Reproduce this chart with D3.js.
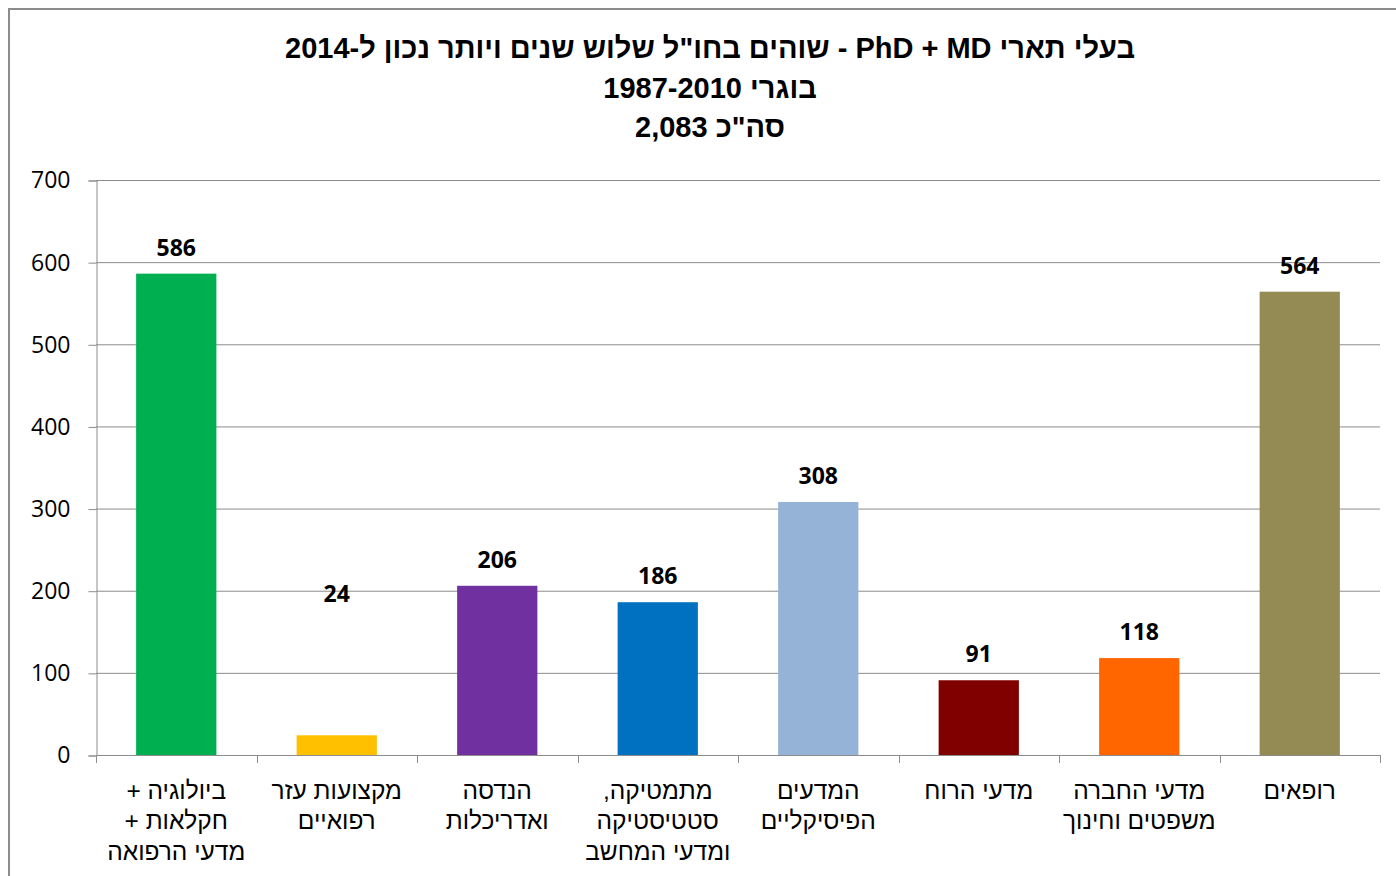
<!DOCTYPE html>
<html><head><meta charset="utf-8">
<script src="https://cdn.jsdelivr.net/npm/d3@7/dist/d3.min.js"></script>
<style>html,body{margin:0;padding:0;background:#fff;}svg{display:block;}</style>
</head><body>
<script>
const titleLines = ["בעלי תארי PhD + MD - שוהים בחו\"ל שלוש שנים ויותר נכון ל-2014", "בוגרי 1987-2010", "סה\"כ 2,083"];
const categories = [
  ["ביולוגיה +", "חקלאות +", "מדעי הרפואה"],
  ["מקצועות עזר", "רפואיים"],
  ["הנדסה", "ואדריכלות"],
  ["מתמטיקה,", "סטטיסטיקה", "ומדעי המחשב"],
  ["המדעים", "הפיסיקליים"],
  ["מדעי הרוח"],
  ["מדעי החברה", "משפטים וחינוך"],
  ["רופאים"]
];
const values = [586, 24, 206, 186, 308, 91, 118, 564];
const labelAt = [586, 164, 206, 186, 308, 91, 118, 564];
const colors = ["#00B050", "#FFC000", "#7030A0", "#0070C0", "#95B3D7", "#800000", "#FF6600", "#948A54"];
const yTicks = [0, 100, 200, 300, 400, 500, 600, 700];

(function(){
const W = 1396, H = 876;
const svg = d3.select("body").append("svg").attr("width", W).attr("height", H);
svg.append("rect").attr("x", 9).attr("y", 9).attr("width", 1420).attr("height", 900)
  .attr("fill", "#fff").attr("stroke", "#8c8c8c").attr("stroke-width", 2);

const pl = 96, pr = 1380, pt = 180, pb = 755;
const idx = d3.range(values.length);
const x = d3.scaleBand().domain(idx).range([pl, pr]).paddingInner(0.5).paddingOuter(0.25);
const y = d3.scaleLinear().domain([0, 700]).range([pb, pt]);

svg.append("g").selectAll("line").data(yTicks.filter(d => d > 0)).join("line")
  .attr("x1", pl).attr("x2", pr).attr("y1", d => y(d) + 0.5).attr("y2", d => y(d) + 0.5)
  .attr("stroke", "#8c8c8c").attr("stroke-width", 1);

const yAxis = svg.append("g").attr("transform", `translate(${pl + 0.5},0.5)`)
  .call(d3.axisLeft(y).tickValues(yTicks).tickSize(8).tickPadding(18).tickFormat(d3.format("d")));
yAxis.select(".domain").attr("stroke", "#8c8c8c");
yAxis.selectAll(".tick line").attr("stroke", "#8c8c8c");
yAxis.selectAll(".tick text").attr("font-family", "'Open Sans', 'Noto Sans', sans-serif")
  .attr("font-size", 23).attr("fill", "#000");

svg.append("g").selectAll("rect").data(idx).join("rect")
  .attr("x", i => x(i)).attr("width", x.bandwidth())
  .attr("y", i => y(values[i])).attr("height", i => y(0) - y(values[i]))
  .attr("fill", i => colors[i]);

const step = x.step();
const edges = d3.range(values.length + 1).map(i => pl + i * step);
svg.append("line").attr("x1", pl).attr("x2", pr).attr("y1", pb + 0.5).attr("y2", pb + 0.5)
  .attr("stroke", "#8c8c8c").attr("stroke-width", 1);
svg.append("g").selectAll("line").data(edges).join("line")
  .attr("x1", d => Math.round(d) + 0.5).attr("x2", d => Math.round(d) + 0.5)
  .attr("y1", pb).attr("y2", pb + 8).attr("stroke", "#8c8c8c");

const catG = svg.append("g").selectAll("text").data(idx).join("text")
  .attr("text-anchor", "middle").attr("direction", "rtl")
  .attr("font-family", "'Liberation Sans', Arial, sans-serif").attr("font-size", 24.5).attr("fill", "#000");
catG.each(function(i) {
  const t = d3.select(this);
  categories[i].forEach((line, k) => {
    t.append("tspan").attr("x", x(i) + x.bandwidth() / 2).attr("y", 790 + k * 30.5)
      .attr("dominant-baseline", "central").text(line);
  });
});

svg.append("g").selectAll("text").data(idx).join("text")
  .attr("x", i => x(i) + x.bandwidth() / 2).attr("y", i => y(labelAt[i]) - 27)
  .attr("dominant-baseline", "central").attr("text-anchor", "middle")
  .attr("font-family", "'Open Sans', 'Noto Sans', sans-serif").attr("font-weight", "bold")
  .attr("font-size", 23).attr("fill", "#000").text(i => values[i]);

svg.append("g").selectAll("text").data(titleLines).join("text")
  .attr("x", 710).attr("y", (d, k) => 48 + k * 39.5)
  .attr("dominant-baseline", "central").attr("text-anchor", "middle").attr("direction", "rtl")
  .attr("font-family", "'Liberation Sans', Arial, sans-serif").attr("font-weight", "bold")
  .attr("font-size", 29).attr("fill", "#000").text(d => d);
})();
</script>
</body></html>
